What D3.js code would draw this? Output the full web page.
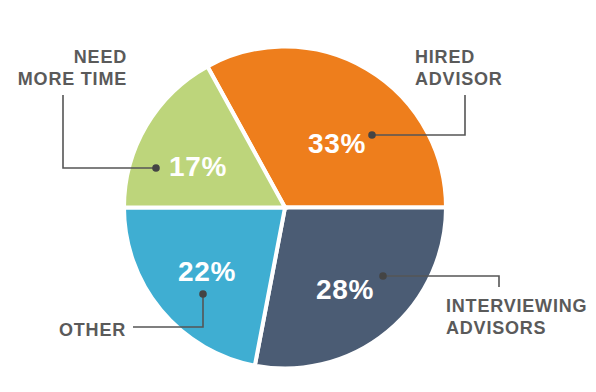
<!DOCTYPE html>
<html>
<head>
<meta charset="utf-8">
<script src="https://cdn.jsdelivr.net/npm/d3@7"></script>
<style>
html,body{margin:0;padding:0;background:#fff;}
svg{display:block;}
</style>
</head>
<body>
<svg id="chart" width="596" height="392"></svg>
<script>
// ---- data ----
const categories = ["HIRED ADVISOR", "INTERVIEWING ADVISORS", "OTHER", "NEED MORE TIME"];
const values = [33, 28, 22, 17];
const valueLabels = ["33%", "28%", "22%", "17%"];
const labelLines = [["HIRED", "ADVISOR"], ["INTERVIEWING", "ADVISORS"], ["OTHER"], ["NEED", "MORE TIME"]];
const colors = ["#EE7E1C", "#4B5C74", "#3FAED2", "#BDD57B"];

// ---- layout ----
const W = 596, H = 392;
const cx = 285, cy = 207.5, R = 161;
const textColor = "#5A5A5A";

const svg = d3.select("#chart");
const g = svg.append("g").attr("transform", `translate(${cx},${cy})`);

const data = categories.map((c, i) => ({cat: c, value: values[i], i}));

// HIRED ADVISOR ends exactly at 3 o'clock
const total = d3.sum(values);
const start = Math.PI / 2 - (values[0] / total) * 2 * Math.PI;
const pie = d3.pie().sort(null).value(d => d.value)
  .startAngle(start).endAngle(start + 2 * Math.PI);
const arcs = pie(data);
const arc = d3.arc().innerRadius(0).outerRadius(R);

g.selectAll("path.slice").data(arcs).join("path")
  .attr("class", "slice")
  .attr("d", arc)
  .attr("fill", d => colors[d.data.i])
  .attr("stroke", "#fff")
  .attr("stroke-width", 4)
  .attr("stroke-linejoin", "miter");

// value labels (offsets relative to pie center)
const valuePos = [[52, -64], [60, 82], [-78, 63.5], [-87, -41]];
g.selectAll("text.val").data(arcs).join("text")
  .attr("class", "val")
  .attr("x", d => valuePos[d.data.i][0])
  .attr("y", d => valuePos[d.data.i][1])
  .attr("text-anchor", "middle")
  .attr("dominant-baseline", "central")
  .attr("fill", "#fff")
  .attr("font-family", "'Liberation Sans', Arial, sans-serif")
  .attr("font-weight", "bold")
  .attr("font-size", 28)
  .attr("letter-spacing", 0.6)
  .text(d => valueLabels[d.data.i]);

// callouts: dot, elbow line, label
const callouts = [
  {dot: [372, 135], path: [[372, 135], [465, 135], [465, 95]], text: [415, 57], anchor: "start"},
  {dot: [383, 276], path: [[383, 276], [499, 276], [499, 287]], text: [446, 306], anchor: "start"},
  {dot: [203, 294], path: [[203, 294], [203, 327], [133, 327]], text: [126, 329.5], anchor: "end"},
  {dot: [156, 168], path: [[156, 168], [63, 168], [63, 95]], text: [127, 57], anchor: "end"}
];

const line = d3.line();
const cg = svg.append("g");
callouts.forEach((c, i) => {
  cg.append("path")
    .attr("d", line(c.path))
    .attr("fill", "none")
    .attr("stroke", "#555")
    .attr("stroke-width", 1.6);
  cg.append("circle")
    .attr("cx", c.dot[0]).attr("cy", c.dot[1]).attr("r", 3.8)
    .attr("fill", "#444");
  const t = cg.append("text")
    .attr("x", c.text[0])
    .attr("y", c.text[1])
    .attr("text-anchor", c.anchor)
    .attr("dominant-baseline", "central")
    .attr("fill", textColor)
    .attr("font-family", "'Liberation Sans', Arial, sans-serif")
    .attr("font-weight", "bold")
    .attr("font-size", 18)
    .attr("letter-spacing", 0.8);
  labelLines[i].forEach((ln, k) => {
    t.append("tspan").attr("x", c.text[0]).attr("dy", k === 0 ? 0 : 22).text(ln);
  });
});
</script>
</body>
</html>
